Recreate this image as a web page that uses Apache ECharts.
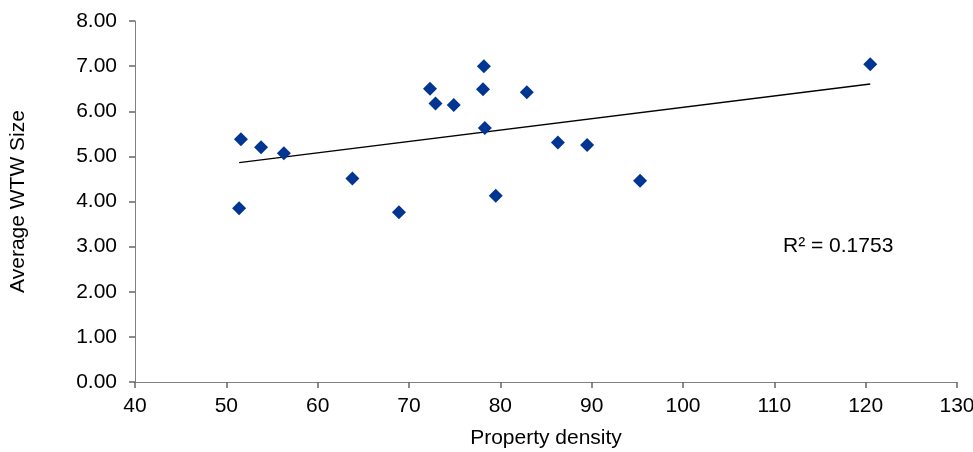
<!DOCTYPE html>
<html>
<head>
<meta charset="utf-8">
<script src="https://cdn.jsdelivr.net/npm/echarts@6/dist/echarts.min.js"></script>
<style>
html, body { margin: 0; padding: 0; background: #fff; }
#chart { width: 973px; height: 452px; }
</style>
</head>
<body>
<div id="chart"></div>
<script>
// property density vs average WTW size
var density = [51.6, 51.4, 53.8, 56.3, 63.8, 68.9, 72.3, 72.9, 74.9, 78.2, 78.1, 78.3, 79.5, 82.9, 86.3, 89.5, 95.3, 120.5];
var wtwSize = [5.38, 3.85, 5.20, 5.07, 4.51, 3.76, 6.50, 6.17, 6.14, 7.00, 6.49, 5.63, 4.13, 6.42, 5.31, 5.25, 4.46, 7.04];
var xTicks = [40, 130, 10];
var yTicks = [0, 8, 1];
var r2Label = 'R² = 0.1753';

var pts = [];
for (var i = 0; i < density.length; i++) {
    pts.push([density[i], wtwSize[i]]);
}

// least squares trendline
var n = density.length, sx = 0, sy = 0, sxx = 0, sxy = 0;
for (var i = 0; i < n; i++) {
    sx += density[i]; sy += wtwSize[i];
    sxx += density[i] * density[i]; sxy += density[i] * wtwSize[i];
}
var slope = (n * sxy - sx * sy) / (n * sxx - sx * sx);
var icpt = (sy - slope * sx) / n;
var xMin = Math.min.apply(null, density), xMax = Math.max.apply(null, density);
var trend = [[xMin, icpt + slope * xMin], [xMax, icpt + slope * xMax]];

var font = 'Liberation Sans, Arial, sans-serif';
var myChart = echarts.init(document.getElementById('chart'));
myChart.setOption({
    animation: false,
    grid: { left: 135, right: 16, top: 21, bottom: 70, outerBoundsMode: 'none', containLabel: false },
    xAxis: {
        type: 'value',
        min: xTicks[0], max: xTicks[1], interval: xTicks[2],
        name: 'Property density',
        nameLocation: 'middle',
        nameGap: 46,
        nameTextStyle: { color: '#000', fontSize: 21, fontFamily: font },
        axisLine: { show: true, onZero: false, lineStyle: { color: '#808080', width: 1 } },
        axisTick: { show: true, inside: false, length: 6, lineStyle: { color: '#666', width: 1.5 } },
        axisLabel: { color: '#000', fontSize: 21, fontFamily: font, margin: 14 },
        splitLine: { show: false }
    },
    yAxis: {
        type: 'value',
        min: yTicks[0], max: yTicks[1], interval: yTicks[2],
        name: 'Average WTW Size',
        nameLocation: 'middle',
        nameGap: 106,
        nameTextStyle: { color: '#000', fontSize: 21, fontFamily: font },
        axisLine: { show: true, onZero: false, lineStyle: { color: '#808080', width: 1 } },
        axisTick: { show: true, inside: false, length: 6, lineStyle: { color: '#666', width: 1.5 } },
        axisLabel: {
            color: '#000', fontSize: 21, fontFamily: font, margin: 18,
            formatter: function (v) { return v.toFixed(2); }
        },
        splitLine: { show: false }
    },
    graphic: [{
        type: 'text',
        left: 783,
        top: 236,
        style: { text: r2Label, fill: '#000', fontSize: 21, fontFamily: font }
    }],
    series: [
        {
            type: 'line',
            data: trend,
            symbol: 'none',
            lineStyle: { color: '#000', width: 1.3 },
            z: 1
        },
        {
            type: 'scatter',
            data: pts,
            symbol: 'diamond',
            symbolSize: [14, 14],
            itemStyle: { color: '#003591', opacity: 1 },
            z: 2
        }
    ]
});
</script>
</body>
</html>
